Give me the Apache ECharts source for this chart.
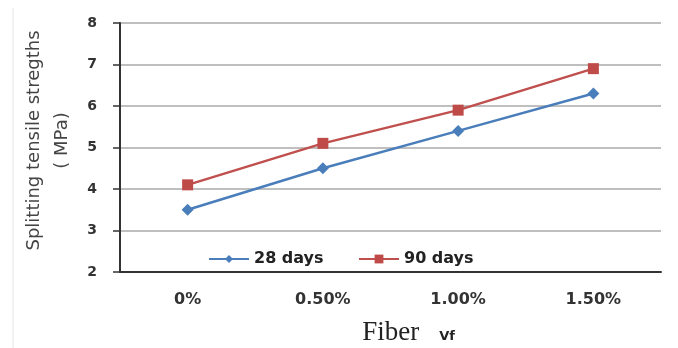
<!DOCTYPE html>
<html><head><meta charset="utf-8">
<script src="https://cdn.jsdelivr.net/npm/echarts@6/dist/echarts.min.js"></script>
<style>html,body{margin:0;padding:0;background:#fff}#c{width:678px;height:348px}</style>
</head><body><div id="c"></div>
<script>
var categories = ['0%', '0.50%', '1.00%', '1.50%'];
var days28 = [3.5, 4.5, 5.4, 6.3];
var days90 = [4.1, 5.1, 5.9, 6.9];
var yTicks = [2, 3, 4, 5, 6, 7, 8];

var legendText = {fontFamily: 'DejaVu Sans', fontWeight: 'bold', fontSize: 16, color: '#222'};
var chart = echarts.init(document.getElementById('c'));
chart.setOption({
  animation: false,
  backgroundColor: '#fff',
  grid: {left: 120, right: 17, top: 23, bottom: 76, containLabel: false, outerBoundsMode: 'none'},
  legend: [
    {left: 203, top: 246, itemWidth: 40, itemHeight: 10, itemGap: 0, textStyle: legendText, data: ['28 days']},
    {left: 353, top: 246, itemWidth: 40, itemHeight: 11, itemGap: 0, textStyle: legendText, data: ['90 days']}
  ],
  xAxis: {
    type: 'category', data: categories, boundaryGap: true,
    axisLine: {lineStyle: {color: '#333', width: 2}},
    axisTick: {alignWithLabel: true, length: 5, lineStyle: {color: '#333', width: 1.5}},
    axisLabel: {margin: 20, fontFamily: 'DejaVu Sans', fontWeight: 'bold', fontSize: 16, color: '#333'},
    name: '{a|Fiber}{b|Vf}', nameLocation: 'middle', nameGap: 47,
    nameTextStyle: {padding: [0, 0, 0, 36], rich: {
      a: {fontFamily: 'Liberation Serif, Times New Roman', fontSize: 27, color: '#222'},
      b: {fontFamily: 'DejaVu Sans', fontWeight: 'bold', fontSize: 13, color: '#222', padding: [8, 0, 0, 20]}
    }}
  },
  yAxis: {
    type: 'value', min: yTicks[0], max: yTicks[yTicks.length - 1], interval: 1,
    axisLine: {show: true, lineStyle: {color: '#333', width: 2}},
    axisTick: {show: true, length: 7, lineStyle: {color: '#333', width: 1.5}},
    axisLabel: {margin: 23, fontFamily: 'DejaVu Sans', fontWeight: 'bold', fontSize: 14, color: '#333'},
    splitLine: {lineStyle: {color: '#aaa', width: 1.5}},
    name: 'Splitting tensile stregths\n( MPa)', nameLocation: 'middle', nameGap: 42, nameRotate: 90,
    nameTextStyle: {fontFamily: 'DejaVu Sans', fontSize: 18, color: '#444', lineHeight: 28, padding: [0, 0, 0, 14]}
  },
  series: [
    {name: '28 days', type: 'line', data: days28, symbol: 'diamond', symbolSize: 12,
     lineStyle: {color: '#4a7ebb', width: 2.5}, itemStyle: {color: '#4a7ebb'}},
    {name: '90 days', type: 'line', data: days90, symbol: 'rect', symbolSize: 11,
     lineStyle: {color: '#c0504d', width: 2.5}, itemStyle: {color: '#be4b48'}}
  ],
  graphic: [
    {type: 'line', shape: {x1: 13, y1: 8, x2: 13, y2: 348}, style: {stroke: '#e6e6e6', lineWidth: 1}}
  ]
});
</script></body></html>
